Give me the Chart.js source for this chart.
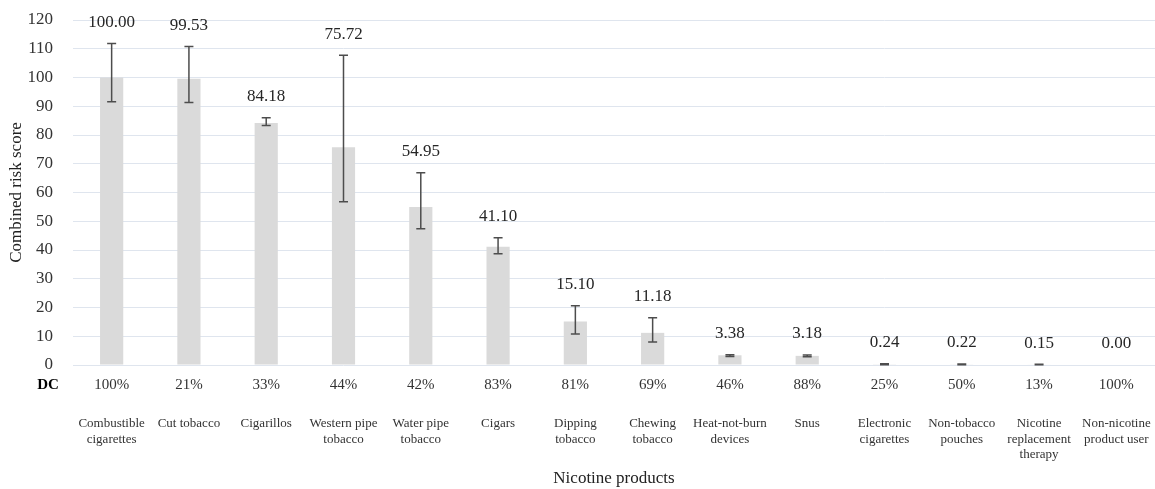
<!DOCTYPE html>
<html>
<head>
<meta charset="utf-8">
<script src="https://cdn.jsdelivr.net/npm/chart.js@4.4.1/dist/chart.umd.min.js"></script>
<style>
  html, body { margin: 0; padding: 0; background: #fff; }
  #wrap { width: 1155px; height: 489px; }
</style>
</head>
<body>
<div id="wrap"><canvas id="chart" width="1155" height="489"></canvas></div>
<script>
// Nicotine products and their combined risk scores
const categories = [
  ["Combustible", "cigarettes"],
  ["Cut tobacco"],
  ["Cigarillos"],
  ["Western pipe", "tobacco"],
  ["Water pipe", "tobacco"],
  ["Cigars"],
  ["Dipping", "tobacco"],
  ["Chewing", "tobacco"],
  ["Heat-not-burn", "devices"],
  ["Snus"],
  ["Electronic", "cigarettes"],
  ["Non-tobacco", "pouches"],
  ["Nicotine", "replacement", "therapy"],
  ["Non-nicotine", "product user"],
];
const scores = [100.0, 99.53, 84.18, 75.72, 54.95, 41.1, 15.1, 11.18, 3.38, 3.18, 0.24, 0.22, 0.15, 0.0];
// error bar ends
const errLow = [91.6, 91.3, 83.3, 56.8, 47.4, 38.7, 10.8, 8.0, 3.0, 2.9, 0.1, 0.1, 0.05, 0];
const errHigh = [111.8, 110.8, 86.0, 107.7, 66.9, 44.3, 20.6, 16.4, 3.6, 3.5, 0.4, 0.35, 0.25, 0];
// DC row
const dcLabel = "DC";
const dcShare = ["100%", "21%", "33%", "44%", "42%", "83%", "81%", "69%", "46%", "88%", "25%", "50%", "13%", "100%"];
const yTicks = { min: 0, max: 120, step: 10 };

const SERIF = "'Liberation Serif', 'DejaVu Serif', serif";

const errorBarsAndLabels = {
  id: "errorBarsAndLabels",
  afterDatasetsDraw(chart) {
    const { ctx } = chart;
    const x = chart.scales.x;
    const y = chart.scales.y;
    ctx.save();
    ctx.strokeStyle = "#4d4d4d";
    ctx.lineWidth = 1.5;
    scores.forEach((v, i) => {
      const px = x.getPixelForValue(i);
      const lo = errLow[i];
      const hi = errHigh[i];
      if (hi > 0 || lo > 0) {
        const yLo = y.getPixelForValue(lo);
        const yHi = y.getPixelForValue(hi);
        ctx.beginPath();
        ctx.moveTo(px, yLo);
        ctx.lineTo(px, yHi);
        ctx.moveTo(px - 4.5, yLo);
        ctx.lineTo(px + 4.5, yLo);
        ctx.moveTo(px - 4.5, yHi);
        ctx.lineTo(px + 4.5, yHi);
        ctx.stroke();
      }
      const top = y.getPixelForValue(Math.max(v, hi));
      ctx.fillStyle = "#262626";
      ctx.font = "17px " + SERIF;
      ctx.textAlign = "center";
      ctx.textBaseline = "middle";
      ctx.fillText(v.toFixed(2), px, top - 21);
    });
    ctx.restore();
  },
  afterDraw(chart) {
    const { ctx } = chart;
    const x = chart.scales.x;
    const rowY = chart.chartArea.bottom + 20;
    ctx.save();
    ctx.textBaseline = "middle";
    ctx.textAlign = "center";
    ctx.fillStyle = "#000";
    ctx.font = "bold 15px " + SERIF;
    ctx.fillText(dcLabel, 48, rowY);
    ctx.fillStyle = "#333";
    ctx.font = "15px " + SERIF;
    dcShare.forEach((s, i) => {
      ctx.fillText(s, x.getPixelForValue(i), rowY);
    });
    ctx.restore();
  },
};

new Chart(document.getElementById("chart"), {
  type: "bar",
  data: {
    labels: categories,
    datasets: [
      {
        label: "Combined risk score",
        data: scores,
        backgroundColor: "#dadada",
        borderWidth: 0,
        barPercentage: 0.3,
        categoryPercentage: 1,
      },
    ],
  },
  options: {
    responsive: false,
    animation: false,
    devicePixelRatio: 1,
    layout: { padding: { left: 0, right: 0, top: 20, bottom: 0 } },
    plugins: {
      legend: { display: false },
      tooltip: { enabled: false },
    },
    scales: {
      x: {
        grid: { display: false, drawTicks: false },
        border: { display: false },
        ticks: {
          autoSkip: false,
          maxRotation: 0,
          minRotation: 0,
          padding: 51,
          color: "#333",
          font: { family: SERIF, size: 13, lineHeight: 1.2 },
        },
        title: {
          display: true,
          text: "Nicotine products",
          color: "#222",
          font: { family: SERIF, size: 17 },
          padding: { top: 0, bottom: 0 },
        },
        afterFit(scale) {
          scale.height = 124;
          scale.paddingLeft = 0;
          scale.paddingRight = 0;
        },
      },
      y: {
        min: yTicks.min,
        max: yTicks.max,
        grid: { color: "#dfe5ee", lineWidth: 1, drawTicks: false },
        border: { display: false },
        ticks: {
          stepSize: yTicks.step,
          padding: 20,
          color: "#333",
          font: { family: SERIF, size: 17 },
        },
        title: {
          display: true,
          text: "Combined risk score",
          color: "#222",
          font: { family: SERIF, size: 17 },
          padding: { top: 6, bottom: 0 },
        },
        afterFit(scale) {
          scale.width = 73;
          scale.paddingTop = 0;
          scale.paddingBottom = 0;
        },
      },
    },
  },
  plugins: [errorBarsAndLabels],
});
</script>
</body>
</html>
